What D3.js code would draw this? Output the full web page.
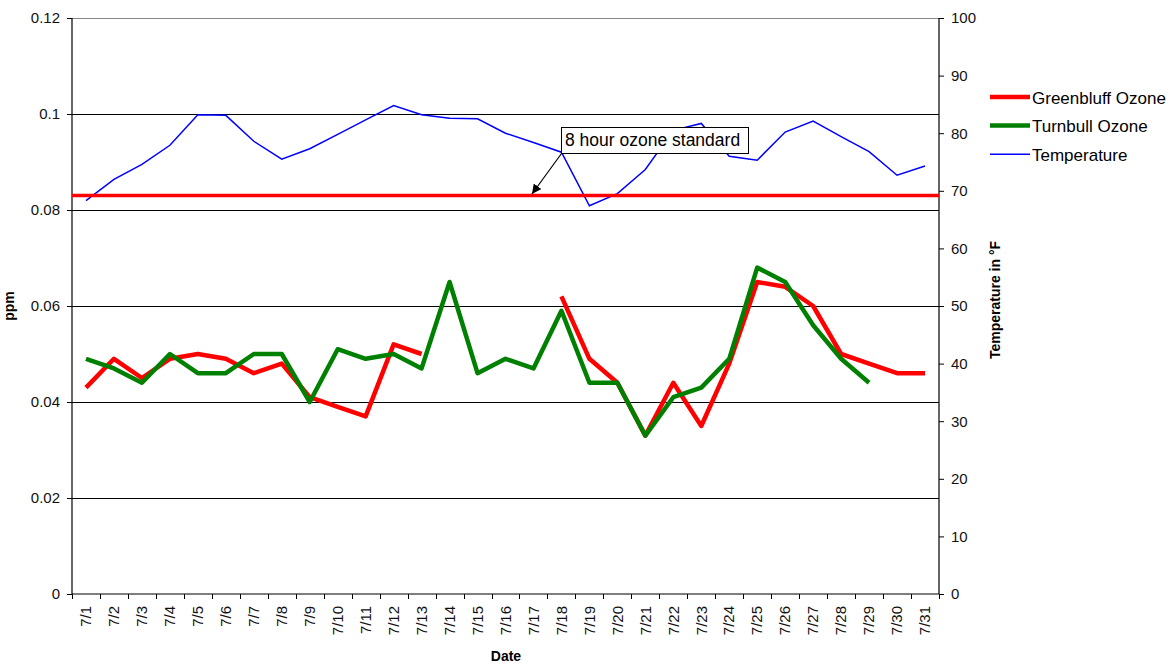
<!DOCTYPE html>
<html>
<head>
<meta charset="utf-8">
<script src="https://cdn.jsdelivr.net/npm/d3@7"></script>
<style>
    body { margin: 0; background: #fff; }
    svg { font-family: "Liberation Sans", Arial, sans-serif; }
</style>
</head>
<body>
<svg id="chart" width="1173" height="664"></svg>
<script>
// data
const dates = ["7/1","7/2","7/3","7/4","7/5","7/6","7/7","7/8","7/9","7/10","7/11","7/12","7/13","7/14","7/15","7/16",
    "7/17","7/18","7/19","7/20","7/21","7/22","7/23","7/24","7/25","7/26","7/27","7/28","7/29","7/30","7/31"];
const greenbluff = [0.043,0.049,0.045,0.049,0.050,0.049,0.046,0.048,0.041,0.039,0.037,0.052,0.050,null,null,null,
    null,0.062,0.049,0.044,0.033,0.044,0.035,0.048,0.065,0.064,0.060,0.050,0.048,0.046,0.046];
const turnbull = [0.049,0.047,0.044,0.050,0.046,0.046,0.050,0.050,0.040,0.051,0.049,0.050,0.047,0.065,0.046,0.049,
    0.047,0.059,0.044,0.044,0.033,0.041,0.043,0.049,0.068,0.065,0.056,0.049,0.044,null,null];
const temperature = [68.3,72.0,74.6,77.9,83.2,83.1,78.6,75.5,77.3,79.8,82.3,84.8,83.2,82.6,82.5,80.0,
    78.4,76.7,67.4,69.5,73.7,80.5,81.7,76.0,75.3,80.2,82.1,79.4,76.8,72.7,74.3];
const ozoneStandard = 0.083;
const ppmTicks = [0, 0.02, 0.04, 0.06, 0.08, 0.1, 0.12];
const tempTicks = [0, 10, 20, 30, 40, 50, 60, 70, 80, 90, 100];

const svg = d3.select("#chart");
const margin = { top: 18, left: 72 },
    width = 867,
    height = 576;

const g = svg.append("g").attr("transform", `translate(${margin.left},${margin.top})`);

const x = d3.scaleBand().domain(dates).range([0, width]);
const y = d3.scaleLinear().domain([0, 0.12]).range([height, 0]);
const y2 = d3.scaleLinear().domain([0, 100]).range([height, 0]);

// gridlines
g.append("g")
    .selectAll("line")
    .data(ppmTicks.filter((d) => d > 0))
    .enter()
    .append("line")
    .attr("x1", 0)
    .attr("x2", width)
    .attr("y1", (d) => Math.round(y(d)) + 0.5)
    .attr("y2", (d) => Math.round(y(d)) + 0.5)
    .attr("stroke", (d) => (d === 0.12 ? "#888" : "#000"))
    .attr("stroke-width", 1);

// left axis
const yAxis = g.append("g")
    .call(d3.axisLeft(y).tickValues(ppmTicks).tickFormat((d) => (d === 0 ? "0" : d3.format("~g")(d))).tickSize(5).tickPadding(7));
// right axis
const y2Axis = g.append("g")
    .attr("transform", `translate(${width},0)`)
    .call(d3.axisRight(y2).tickValues(tempTicks).tickSize(5).tickPadding(7));
// bottom axis
const xAxis = g.append("g")
    .attr("transform", `translate(0,${height})`)
    .call(d3.axisBottom(x).tickSize(0).tickPadding(0));

[yAxis, y2Axis, xAxis].forEach((a) => {
    a.selectAll("path.domain").attr("stroke", "#000").attr("stroke-width", 1.2);
    a.selectAll("line").attr("stroke", "#000");
    a.selectAll("text").attr("font-size", 15).attr("fill", "#111").attr("font-family", "Liberation Sans, Arial, sans-serif");
});
yAxis.select("path.domain").attr("d", `M0,0V${height}`);
y2Axis.select("path.domain").attr("d", `M0,0V${height}`);
xAxis.select("path.domain").attr("d", `M0,0H${width}`);

// x tick marks between categories
xAxis.selectAll(".sep")
    .data(dates.concat(["end"]))
    .enter()
    .append("line")
    .attr("class", "sep")
    .attr("x1", (d, i) => Math.round(i * x.step()) + 0.5)
    .attr("x2", (d, i) => Math.round(i * x.step()) + 0.5)
    .attr("y1", 0)
    .attr("y2", 5)
    .attr("stroke", "#000");

xAxis.selectAll(".tick text")
    .attr("transform", "translate(0,12) rotate(-90)")
    .attr("text-anchor", "end")
    .attr("dy", "0.35em")
    .attr("y", 0)
    .attr("x", 0);

// axis titles
svg.append("text")
    .attr("transform", "translate(14,306) rotate(-90)")
    .attr("text-anchor", "middle")
    .attr("font-size", 14)
    .attr("font-weight", "bold")
    .text("ppm");
svg.append("text")
    .attr("transform", "translate(1000,300) rotate(-90)")
    .attr("text-anchor", "middle")
    .attr("font-size", 14)
    .attr("font-weight", "bold")
    .text("Temperature in °F");
svg.append("text")
    .attr("x", 506)
    .attr("y", 661)
    .attr("text-anchor", "middle")
    .attr("font-size", 14)
    .attr("font-weight", "bold")
    .text("Date");

const cx = (d, i) => x(dates[i]) + x.bandwidth() / 2;

// temperature
g.append("path")
    .datum(temperature)
    .attr("fill", "none")
    .attr("stroke", "#0000ff")
    .attr("stroke-width", 1.5)
    .attr("d", d3.line().x(cx).y((d) => y2(d)));

// ozone standard
g.append("line")
    .attr("x1", 0)
    .attr("x2", width)
    .attr("y1", y(ozoneStandard))
    .attr("y2", y(ozoneStandard))
    .attr("stroke", "#ff0000")
    .attr("stroke-width", 3.5);

const ozoneLine = d3.line().defined((d) => d !== null).x(cx).y((d) => y(d));

g.append("path")
    .datum(greenbluff)
    .attr("fill", "none")
    .attr("stroke", "#ff0000")
    .attr("stroke-width", 4.5)
    .attr("stroke-linejoin", "round")
    .attr("d", ozoneLine);

g.append("path")
    .datum(turnbull)
    .attr("fill", "none")
    .attr("stroke", "#008000")
    .attr("stroke-width", 4.5)
    .attr("stroke-linejoin", "round")
    .attr("d", ozoneLine);

// annotation
svg.append("defs").append("marker")
    .attr("id", "arrow")
    .attr("viewBox", "0 0 10 10")
    .attr("refX", 10)
    .attr("refY", 5)
    .attr("markerWidth", 8)
    .attr("markerHeight", 8)
    .attr("orient", "auto")
    .append("path")
    .attr("d", "M0,0L10,5L0,10z")
    .attr("fill", "#000");

const noteX = 561.5, noteY = 127.5;
svg.append("line")
    .attr("x1", noteX)
    .attr("y1", noteY + 26)
    .attr("x2", 532)
    .attr("y2", 194)
    .attr("stroke", "#000")
    .attr("stroke-width", 1.2)
    .attr("marker-end", "url(#arrow)");
svg.append("rect")
    .attr("x", noteX)
    .attr("y", noteY)
    .attr("width", 187)
    .attr("height", 26)
    .attr("fill", "#fff")
    .attr("stroke", "#000")
    .attr("stroke-width", 1);
svg.append("text")
    .attr("x", noteX + 3.5)
    .attr("y", noteY + 18)
    .attr("font-size", 17.5)
    .text("8 hour ozone standard");

// legend
const legendItems = [
    { name: "Greenbluff Ozone", color: "#ff0000", w: 4.5 },
    { name: "Turnbull Ozone", color: "#008000", w: 4.5 },
    { name: "Temperature", color: "#0000ff", w: 1.5 },
];
const legend = svg.append("g").attr("transform", "translate(990,97)");
legendItems.forEach((d, i) => {
    legend.append("line")
        .attr("x1", 0)
        .attr("x2", 40)
        .attr("y1", i * 28.6)
        .attr("y2", i * 28.6)
        .attr("stroke", d.color)
        .attr("stroke-width", d.w);
    legend.append("text")
        .attr("x", 42)
        .attr("y", i * 28.6 + 6.5)
        .attr("font-size", 17)
        .text(d.name);
});
</script>
</body>
</html>
